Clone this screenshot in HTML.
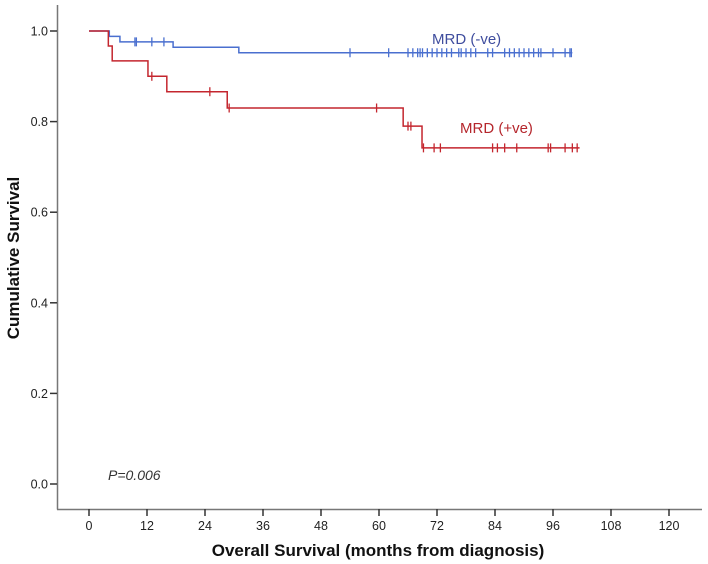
<!DOCTYPE html>
<html><head><meta charset="utf-8"><style>
html,body{margin:0;padding:0;background:#fff;}
svg{display:block;font-family:"Liberation Sans",Arial,sans-serif;}
</style></head><body>
<svg id="chart" width="708" height="564" viewBox="0 0 708 564">
<g id="axes"></g>
<g id="series"></g>
<text x="432" y="44" font-size="15" fill="#3f4d9e">MRD (-ve)</text>
<text x="460" y="133" font-size="15" fill="#b5262c">MRD (+ve)</text>
<text x="108" y="480" font-size="14" font-style="italic" fill="#333">P=0.006</text>
<text x="378" y="556" font-size="17" font-weight="bold" text-anchor="middle" fill="#111">Overall Survival (months from diagnosis)</text>
<text transform="translate(19,258) rotate(-90)" font-size="17" font-weight="bold" text-anchor="middle" fill="#111">Cumulative Survival</text>
</svg>
<script>
const xTicks = [0,12,24,36,48,60,72,84,96,108,120];
const yTicks = [0.0,0.2,0.4,0.6,0.8,1.0];
const negTimes = [0,4.2,6.4,17.4,31,100];
const negSurv = [1.0,0.988,0.976,0.964,0.952,0.952];
const negCens = [9.5,9.8,13,15.5,54,62,66,67,68,68.5,69,70,71,72,73,74,75,76.5,77,78,79,80,82.5,83.5,86,87,88,89,90,91,92,93,93.5,96,98.5,99.5,99.8];
const posTimes = [0,4,4.8,12.2,16.1,28.6,65,68.9,101.5];
const posSurv = [1.0,0.967,0.934,0.9,0.866,0.83,0.79,0.742,0.742];
const posCens = [13,25,29,59.5,66,66.6,69.2,71.4,72.7,83.5,84.5,86,88.5,95,95.5,98.5,100,101];

const X = m => 89 + m*(580/120);
const Y = s => 484 - s*453;
const NS = "http://www.w3.org/2000/svg";
function el(tag, attrs, parent){const e=document.createElementNS(NS,tag);for(const k in attrs)e.setAttribute(k,attrs[k]);parent.appendChild(e);return e;}
const axes=document.getElementById('axes'), series=document.getElementById('series');

let a=el('line',{x1:57.5,y1:5,x2:57.5,y2:509.5,stroke:'#777','stroke-width':1.5},axes);


a=el('line',{x1:57,y1:509.5,x2:702,y2:509.5,stroke:'#777','stroke-width':1.5},axes);


xTicks.forEach(t=>{
  const l=el('line',{x1:X(t),y1:509,x2:X(t),y2:516,stroke:'#333','stroke-width':1.5},axes);
  
  
  const tx=el('text',{x:X(t),y:530,'font-size':12.5,'text-anchor':'middle',fill:'#222'},axes);
  tx.textContent=t;
  
  
});
yTicks.forEach(t=>{
  const l=el('line',{x1:50,y1:Y(t),x2:57,y2:Y(t),stroke:'#333','stroke-width':1.5},axes);
  
  
  const tx=el('text',{x:48,y:Y(t)+4.5,'font-size':12.5,'text-anchor':'end',fill:'#222'},axes);
  tx.textContent=t.toFixed(1);
  
  
});
function survAt(times,surv,m){let s=surv[0];for(let i=0;i<times.length;i++){if(times[i]<=m)s=surv[i];}return s;}
function drawSeries(times,surv,cens,color,name){
  let d='M'+X(times[0])+','+Y(surv[0]);
  for(let i=1;i<times.length;i++){d+=' H'+X(times[i])+' V'+Y(surv[i]);}
  const p=el('path',{d:d,fill:'none',stroke:color,'stroke-width':1.5},series);
  
  
  cens.forEach(c=>{
    const s=survAt(times,surv,c);
    const m=el('line',{x1:X(c),y1:Y(s)-4.5,x2:X(c),y2:Y(s)+4.5,stroke:color,'stroke-width':1.3},series);
    
    
  });
}
drawSeries(negTimes,negSurv,negCens,'#4a6fcf','mrd-negative');
drawSeries(posTimes,posSurv,posCens,'#c4262e','mrd-positive');
</script>
</body></html>
